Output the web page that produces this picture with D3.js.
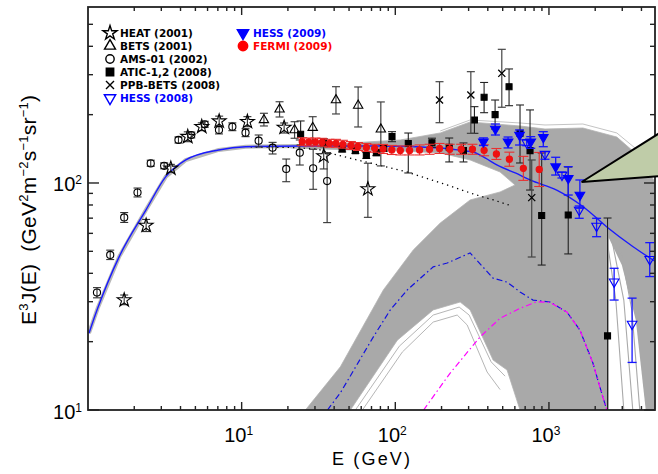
<!DOCTYPE html>
<html>
<head>
<meta charset="utf-8">
<script src="https://cdn.jsdelivr.net/npm/d3@7"></script>
<style>
  html, body { margin: 0; padding: 0; background: #fff; }
  svg { display: block; }
</style>
</head>
<body>
<svg id="chart" width="658" height="474"></svg>
<script>
// ---------- measured electron spectra: [E (GeV), E^3 J, lower, upper] ----------
const heat = [
  [1.72, 30.5, 29.1, 32.1], [2.39, 65.0, 61.1, 69.1], [3.46, 116, 111.5, 120.8],
  [4.46, 160, 152, 168], [5.50, 177, 170, 184], [7.14, 187.2, 178, 197],
  [10.9, 186.2, 177, 196], [18.9, 175.6, 166, 183.8], [34.2, 131.5, 115.3, 152],
  [66.3, 94.1, 70.6, 122.2]
];
const bets = [
  [13.96, 189.5, 178.3, 202.8], [17.65, 211.2, 195.3, 228], [22.1, 171.2, 157.4, 186.2],
  [29.0, 175.3, 152, 195.9], [41.1, 232, 201.4, 265.6], [57.3, 219.5, 176.5, 264.8],
  [80.5, 172.4, 118.9, 227.5]
];
const ams01 = [
  [1.144, 32.9, 31.2, 34.6], [1.395, 48.2, 46.0, 50.6], [1.72, 70.5, 67.0, 74.1],
  [2.10, 90.8, 86.8, 95.0], [2.56, 122, 118.5, 126], [3.13, 119, 115.5, 122.6],
  [3.88, 154.7, 150, 159.5], [4.70, 162.7, 158, 167.6], [5.75, 181.4, 176, 187],
  [7.12, 171.2, 164.5, 178], [8.70, 177, 170, 184], [10.6, 166.6, 160, 173.4],
  [12.9, 153.6, 144.1, 162.7], [15.9, 143.1, 134.2, 151], [19.5, 115.3, 101.3, 127.5],
  [23.9, 136, 120, 154.7], [29.2, 116, 93.8, 140.8], [36.0, 102, 66.9, 136]
];
const atic = [
  [24.2, 163.9, 147, 187.6], [34.2, 150.5, 144.4, 156.8], [45.1, 141.2, 137, 145.5],
  [55.0, 138.8, 135, 142.9], [64.8, 132.2, 128.3, 136.2], [75.3, 136, 132, 140],
  [84.0, 142.2, 138, 146.5], [95.2, 160, 152, 168.3], [121.5, 149.3, 110.7, 166],
  [173.2, 150.5, 143.7, 157.5], [224.3, 143.7, 123.8, 157.8], [277.7, 138.8, 123.8, 150.1],
  [327.3, 189.5, 165.5, 216.9], [378.4, 238.5, 204, 277.2], [446.2, 200, 172.9, 232],
  [550, 265.6, 219, 317.9], [648.3, 165.5, 122.5, 220.6], [753.3, 138.8, 93.1, 209.8],
  [896.8, 71.9, 43.5, 135.6], [1335, 72.3, 48.7, 117.6], [2406, 21.2, 8, 70.1]
];
const ppbBets = [
  [194, 232, 184.3, 279.4], [310.2, 244.2, 165.5, 309.3],
  [493.3, 304.2, 215.6, 388], [772.5, 86.2, 47.2, 126.3]
];
const hess2008 = [
  [716.8, 150.5, 146, 155.1], [942.3, 134.2, 127.2, 137.4], [1215, 108.4, 105.2, 111.8],
  [1574, 76.0, 69.9, 79.2], [2042, 64.6, 58.0, 69.9], [2656, 36.7, 30.5, 42.1],
  [3476, 23.9, 16.2, 31.1], [4529, 46.1, 38.7, 54.6]
];
const hess2009 = [
  [374.5, 152, 146.2, 158], [448.2, 172.9, 162.7, 181.9], [541.9, 152, 142.7, 159.4],
  [643.5, 162.7, 147, 171.2], [761, 152, 142.2, 160], [918.7, 159, 144.5, 168.3],
  [1106, 118, 108.4, 129.8], [1335, 104.9, 88.5, 118], [1590, 88.5, 77.4, 103.1]
];
const fermi2009 = [
  [24.8, 152.0, 146.0, 158.2], [27.4, 151.6, 145.6, 157.8], [30.2, 151.6, 145.6, 157.8],
  [33.4, 151.1, 145.2, 157.3], [37.3, 149.6, 143.7, 155.7], [41.1, 149.6, 143.7, 155.7],
  [45.6, 148.1, 142.3, 154.2], [51.4, 146.3, 140.5, 152.3], [57.1, 144.8, 139.1, 150.7],
  [64.8, 143.4, 137.7, 149.3], [73.4, 142.2, 136.6, 148], [83.2, 141.2, 134.9, 147.8],
  [94.9, 139.8, 133.5, 146.4], [107.8, 139.1, 132.9, 145.6], [123.9, 139.1, 132.9, 145.6],
  [143.9, 139.8, 132.9, 147.1], [167.1, 140.8, 133.8, 148.1], [194, 141.9, 134.9, 149.3],
  [226, 140.8, 133.8, 148.1], [268.4, 140.8, 133.8, 148.1], [317.7, 140.8, 133.8, 148.1],
  [378.4, 139.3, 131.8, 147.2], [454.9, 134.2, 127, 141.9], [552.5, 127.3, 118.5, 136.7],
  [681.3, 116, 102.7, 131], [864.2, 114.7, 96.5, 136.3]
];

// ---------- model curves: [E (GeV), E^3 J] ----------
const totalModel = [
  [1.015, 21.8], [1.156, 28.05], [1.597, 47.4], [2.38, 76.0], [3.21, 106.6], [4.33, 126.3],
  [7.09, 139.8], [10.6, 144.5], [24.2, 145.6], [80.5, 145.6], [196, 142.7], [285, 138.4],
  [321, 137], [384, 128.9], [458, 120.1], [648, 108.4], [753, 103.1], [1123, 93.1],
  [1671, 78.6], [2370, 64.2], [3529, 52.4], [5105, 44.4]
];
const backgroundModel = [
  [11.44, 144.1], [20.8, 143.4], [31.0, 141.2], [39.6, 134.2], [56.4, 126.3], [79.9, 119.5],
  [119.2, 111.8], [227.6, 97.0], [322.5, 89.4], [434.9, 84.2], [575.3, 79.2]
];
const extraSourceModel = [
  [36.2, 10], [43.9, 11.9], [72.0, 21.0], [92.8, 27.6], [119.7, 33.8], [176.5, 42.7],
  [217.7, 44.4], [306.9, 49.2], [432.9, 38.1], [533.9, 36.6], [648.3, 33.1], [787.6, 30.5],
  [1015, 29.9], [1309, 27.0], [1590, 22.5], [1932, 16.1], [2243, 11.4], [2382, 10]
];
const singleSourceModel = [
  [152.8, 10], [227.6, 14.55], [356.5, 21.0], [480.8, 25.35], [648.3, 28.05], [832.6, 30.0],
  [1015, 29.8], [1309, 27.0], [1590, 22.5], [1932, 16.1], [2243, 11.4], [2382, 10]
];

// ---------- envelope of the sampled model spectra ----------
const bandOutline = [
  [20.8, 147.0], [51.0, 150.1], [107.8, 154.7], [196, 166.1], [306.9, 185.7], [648.3, 178.3],
  [942.3, 172.9], [1663, 174.7], [2765, 159.4], [3900, 130.2], [5260, 93.1], [5260, 10],
  [648.3, 10], [533.9, 15.0], [432.9, 16.6], [306.9, 27.6], [264.4, 29.9], [176.5, 27.6],
  [103.1, 20.3], [51.0, 10], [26.0, 10], [43.9, 15.5], [83.6, 33.8], [130.9, 50.7],
  [196, 66.6], [306.9, 84.2], [480.8, 91.3], [601.6, 98.0], [480.8, 111.8], [306.9, 126.3],
  [196, 135.6], [107.8, 138.4], [51.0, 139.8], [20.8, 142.7]
];
const bandGap = [[2454, 57.2], [2980, 43.5], [3674, 24.9], [4266, 10], [2454, 10]];
const gapSpectra = [
  [[2346, 60.8], [2725, 30.5], [3070, 10]],
  [[2567, 56.1], [3070, 30.5], [3512, 10]],
  [[2892, 53.3], [3461, 27.6], [3900, 10]]
];
const innerSpectra = [
  [[55.0, 10], [106.2, 19.1], [176.5, 26.2], [260.4, 28.4], [302.4, 26.2], [420.2, 16.3], [518.1, 14.1]],
  [[61.1, 10], [111.1, 18.0], [176.5, 24.4], [252.8, 26.2], [293.5, 23.7], [395.9, 14.7], [480.8, 12.3]]
];
const outerSpectra = [
  [[196, 169.5], [306.9, 189.5], [648.3, 183.8], [942.3, 180.1], [1663, 181.9], [2765, 166.1], [3900, 137], [5260, 103.1]]
];
const pointer = [[1632, 101], [5260, 166.1], [5260, 107.3]];

// ---------- axes ----------
const xMajorTicks = [10, 100, 1000];
const xTickExp = ["1", "2", "3"];
const xMinorTicks = [2, 3, 4, 5, 6, 7, 8, 9, 20, 30, 40, 50, 60, 70, 80, 90,
  200, 300, 400, 500, 600, 700, 800, 900, 2000, 3000, 4000];
const yMajorTicks = [10, 100];
const yTickExp = ["1", "2"];
const yMinorTicks = [20, 30, 40, 50, 60, 70, 80, 90, 200, 300, 400, 500];

const legendLeft = [
  { label: "HEAT (2001)", sym: "star", color: "#000" },
  { label: "BETS (2001)", sym: "triUp", color: "#000" },
  { label: "AMS-01 (2002)", sym: "circle", color: "#000" },
  { label: "ATIC-1,2 (2008)", sym: "square", color: "#000" },
  { label: "PPB-BETS (2008)", sym: "times", color: "#000" },
  { label: "HESS (2008)", sym: "triDown", color: "#0000ff" }
];
const legendRight = [
  { label: "HESS (2009)", sym: "triDownFilled", color: "#0000ff" },
  { label: "FERMI (2009)", sym: "dot", color: "#ff0000" }
];

// ---------- drawing ----------
const plot = { left: 88, right: 655, top: 7, bottom: 410 };
const x = d3.scaleLog().domain([1, 4900]).range([plot.left, plot.right]);
const y = d3.scaleLog().domain([10, 596]).range([plot.bottom, plot.top]);
const line = d3.line().x(d => x(d[0])).y(d => y(d[1]));

const svg = d3.select("#chart");
svg.append("rect").attr("width", 658).attr("height", 474).attr("fill", "#fff");
svg.append("defs").append("clipPath").attr("id", "plotClip")
  .append("rect").attr("x", plot.left).attr("y", plot.top)
  .attr("width", plot.right - plot.left).attr("height", plot.bottom - plot.top);
const g = svg.append("g").attr("clip-path", "url(#plotClip)");

const BAND = "#a9a9a9";
g.append("path").attr("d", line(bandOutline) + "Z")
  .attr("fill", BAND).attr("stroke", "#b3b3b3").attr("stroke-width", 0.8);
g.append("path").attr("d", line(totalModel.filter(d => d[0] <= 26)))
  .attr("fill", "none").attr("stroke", "#b8b8b8").attr("stroke-width", 4);
g.append("path").attr("d", line(bandGap) + "Z").attr("fill", "#fff");
g.selectAll("path.gapSpec").data(gapSpectra).join("path").attr("class", "gapSpec")
  .attr("d", line).attr("fill", "none").attr("stroke", BAND).attr("stroke-width", 1.1);
g.selectAll("path.innerSpec").data(innerSpectra).join("path").attr("class", "innerSpec")
  .attr("d", line).attr("fill", "none").attr("stroke", "#b6b6b6").attr("stroke-width", 1);
g.selectAll("path.outerSpec").data(outerSpectra).join("path").attr("class", "outerSpec")
  .attr("d", line).attr("fill", "none").attr("stroke", "#c4c4c4").attr("stroke-width", 1);

// model components
g.append("path").attr("d", line(backgroundModel)).attr("fill", "none")
  .attr("stroke", "#000").attr("stroke-width", 1.3).attr("stroke-dasharray", "1.3,4");
g.append("path").attr("d", line(extraSourceModel)).attr("fill", "none")
  .attr("stroke", "#1010e0").attr("stroke-width", 1.2).attr("stroke-dasharray", "6,3,1.5,3");
g.append("path").attr("d", line(singleSourceModel)).attr("fill", "none")
  .attr("stroke", "#ff00ff").attr("stroke-width", 1.2).attr("stroke-dasharray", "6,3,1.5,3");
g.append("path").attr("d", d3.line().x(d => x(d[0])).y(d => y(d[1])).curve(d3.curveMonotoneX)(totalModel))
  .attr("fill", "none").attr("stroke", "#1a1aff").attr("stroke-width", 1.4);

// markers
const symPath = {
  star: s => d3.symbol(d3.symbolStar, s)(),
  triUp: s => d3.symbol(d3.symbolTriangle, s)(),
  triDown: s => d3.symbol(d3.symbolTriangle, s)(),
  triDownFilled: s => d3.symbol(d3.symbolTriangle, s)(),
  square: s => d3.symbol(d3.symbolSquare, s)(),
  circle: s => d3.symbol(d3.symbolCircle, s)(),
  dot: s => d3.symbol(d3.symbolCircle, s)(),
  times: s => { const r = Math.sqrt(s) / 2; return `M${-r},${-r}L${r},${r}M${-r},${r}L${r},${-r}`; }
};
const filledSyms = new Set(["square", "triDownFilled", "dot"]);
function marker(sel, sym, size, color, width) {
  const rot = sym.startsWith("triDown") ? " rotate(180)" : "";
  sel.attr("d", symPath[sym](size))
    .attr("transform", function () { return d3.select(this).attr("data-pos") + rot; })
    .attr("fill", filledSyms.has(sym) ? color : "none")
    .attr("stroke", color)
    .attr("stroke-width", width || (sym === "times" ? 1.3 : 1.1));
}

function series(data, opt) {
  const s = g.append("g");
  const cap = opt.cap;
  s.selectAll("line.bar").data(data).join("line")
    .attr("x1", d => x(d[0])).attr("x2", d => x(d[0]))
    .attr("y1", d => y(d[2])).attr("y2", d => y(d[3]))
    .attr("stroke", opt.bar).attr("stroke-width", opt.barWidth);
  [2, 3].forEach(k => {
    s.selectAll("line.cap" + k).data(data).join("line")
      .attr("x1", d => x(d[0]) - cap).attr("x2", d => x(d[0]) + cap)
      .attr("y1", d => y(d[k])).attr("y2", d => y(d[k]))
      .attr("stroke", opt.bar).attr("stroke-width", opt.barWidth);
  });
  s.selectAll("path.m").data(data).join("path")
    .attr("data-pos", d => `translate(${x(d[0])},${y(d[1])})`)
    .call(marker, opt.sym, opt.size, opt.color);
}

series(heat, { sym: "star", size: 60, color: "#000", bar: "#333", barWidth: 1.1, cap: 4 });
series(bets, { sym: "triUp", size: 38, color: "#000", bar: "#444", barWidth: 1.2, cap: 4 });
series(ams01, { sym: "circle", size: 40, color: "#000", bar: "#333", barWidth: 1.1, cap: 4 });
series(atic, { sym: "square", size: 36, color: "#000", bar: "#222", barWidth: 1.1, cap: 4 });
series(ppbBets, { sym: "times", size: 50, color: "#000", bar: "#444", barWidth: 1.2, cap: 4 });
series(fermi2009, { sym: "dot", size: 30, color: "#ee1111", bar: "#e83030", barWidth: 1.1, cap: 5 });
series(hess2008, { sym: "triDown", size: 40, color: "#0000ff", bar: "#1515ff", barWidth: 1.3, cap: 4.5 });
series(hess2009, { sym: "triDownFilled", size: 40, color: "#0000ff", bar: "#1515ff", barWidth: 1.3, cap: 4.5 });

// frame and ticks
const axis = svg.append("g").attr("stroke", "#222");
axis.append("rect").attr("x", plot.left).attr("y", plot.top)
  .attr("width", plot.right - plot.left).attr("height", plot.bottom - plot.top)
  .attr("fill", "none").attr("stroke-width", 1.8);
function xTick(v, len) {
  axis.append("line").attr("x1", x(v)).attr("x2", x(v)).attr("y1", plot.bottom).attr("y2", plot.bottom - len).attr("stroke-width", 1.4);
  axis.append("line").attr("x1", x(v)).attr("x2", x(v)).attr("y1", plot.top).attr("y2", plot.top + len).attr("stroke-width", 1.4);
}
function yTick(v, len) {
  axis.append("line").attr("y1", y(v)).attr("y2", y(v)).attr("x1", plot.left).attr("x2", plot.left + len).attr("stroke-width", 1.4);
  axis.append("line").attr("y1", y(v)).attr("y2", y(v)).attr("x1", plot.right).attr("x2", plot.right - len).attr("stroke-width", 1.4);
}
xMajorTicks.forEach(v => xTick(v, 8));
xMinorTicks.forEach(v => xTick(v, 4));
yMajorTicks.forEach(v => yTick(v, 11));
yMinorTicks.forEach(v => yTick(v, 5));

const FONT = "'Liberation Sans', Arial, Helvetica, sans-serif";
const labels = svg.append("g").attr("font-family", FONT).attr("fill", "#000");
xMajorTicks.forEach((v, i) => {
  const t = labels.append("text").attr("x", x(v) - 3).attr("y", 441.5)
    .attr("text-anchor", "middle").attr("font-size", 20);
  t.append("tspan").text("10");
  t.append("tspan").attr("dy", -7).attr("font-size", 12).text(xTickExp[i]);
});
yMajorTicks.forEach((v, i) => {
  const t = labels.append("text").attr("x", 82).attr("y", y(v) + 8.5)
    .attr("text-anchor", "end").attr("font-size", 20);
  t.append("tspan").text("10");
  t.append("tspan").attr("dy", -7).attr("font-size", 12).text(yTickExp[i]);
});
labels.append("text").attr("x", 332).attr("y", 465).attr("font-size", 18)
  .attr("textLength", 78).attr("lengthAdjust", "spacing").text("E (GeV)");

const yt = labels.append("text").attr("transform", "translate(36,210) rotate(-90)")
  .attr("text-anchor", "middle").attr("font-size", 21)
  .attr("textLength", 230).attr("lengthAdjust", "spacing");
[["E", 0], ["3", -8], ["J(E)  (GeV", 8], ["2", -8], ["m", 8], ["−2", -8], ["s", 8],
 ["−1", -8], ["sr", 8], ["−1", -8], [")", 8]].forEach(([txt, dy], i) => {
  const sup = dy < 0;
  yt.append("tspan").attr("dy", i === 0 ? 0 : dy).attr("font-size", sup ? 13 : 21)
    .attr("xml:space", "preserve").text(txt);
});

// pointer to the inset
svg.append("path").attr("d", line(pointer) + "Z")
  .attr("fill", "#bfcca8").attr("stroke", "#000").attr("stroke-width", 2).attr("stroke-linejoin", "miter");

// legend
const lg = svg.append("g").attr("font-family", "'DejaVu Sans', Verdana, sans-serif")
  .attr("font-weight", "bold").attr("font-size", 10.5);
const legendSize = { star: 62, triUp: 52, circle: 55, square: 55, times: 64, triDown: 56, triDownFilled: 56, dot: 70 };
function legendColumn(items, sx, tx, y0) {
  items.forEach((it, i) => {
    const yy = y0 + i * 13;
    lg.append("path").attr("data-pos", `translate(${sx},${yy})`)
      .call(marker, it.sym, legendSize[it.sym], it.color, 1.4);
    lg.append("text").attr("x", tx).attr("y", yy + 4).attr("fill", it.color).text(it.label);
  });
}
legendColumn(legendLeft, 110, 120, 33);
legendColumn(legendRight, 243, 253, 33);
</script>
</body>
</html>
